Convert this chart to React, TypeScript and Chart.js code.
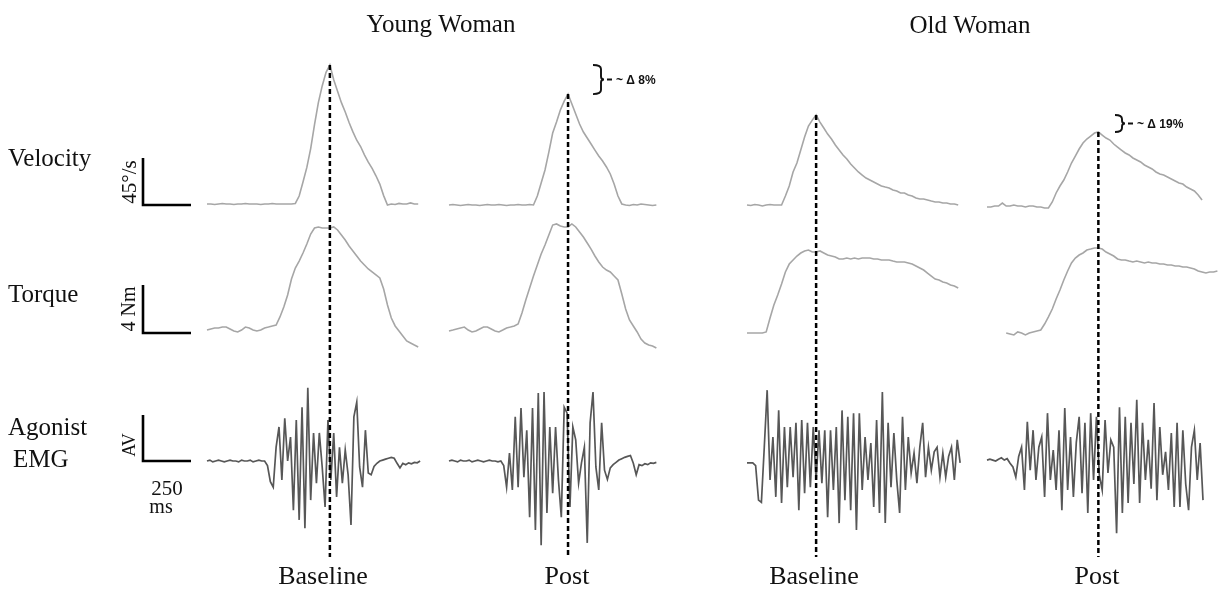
import React, { useEffect, useRef } from 'react';
import { Chart, registerables } from 'chart.js';

Chart.register(...registerables);

// ---------------- DATA ----------------
// sampling steps (ms)
const stepMs = 20; // velocity & torque
const emgStepMs = 15; // EMG

const panelNames = ['Baseline', 'Post', 'Baseline', 'Post'];
const groupTitles = ['Young Woman', 'Old Woman'];
const rowLabels = ['Velocity', 'Torque', 'Agonist', 'EMG'];
const scaleBarLabels = ['45°/s', '4 Nm', 'AV'];
const timeBarLabels = ['250', 'ms'];
const deltaLabels = ['~ Δ 8%', '~ Δ 19%'];

// scale-bar sizes (data units)
const velBar = 45; // °/s
const torqueBar = 4; // Nm
const emgBar = 1; // AV
const timeBar = 250; // ms

// Velocity (°/s)
const ybVel = [1, 1, 0.5, 1, 1.5, 1, 1, 0.5, 1, 1, 1.5, 1, 1, 1, 0.5, 1, 1, 1.5, 1, 1, 1, 1, 1, 1.5,
  8.6, 22, 36, 54, 77, 98, 114, 127, 134, 120, 109, 98, 89, 79, 70, 62, 56, 48, 41, 35, 28, 20, 9, 0,
  1, 0.5, 1.5, 1, 1, 2, 1, 1];
const ypVel = [0, 0.5, 0, -0.5, 0, 0.5, 0, 0, -0.5, 0, 0.5, 0, 0, 0.5, 0, -0.5, 0, 0, 0.5, 0, 0, 0.5, 0,
  8.6, 21, 33.5, 50.7, 68.9, 79.4, 90.9, 99.5, 106.2, 96.7, 87.1, 77.5, 69.9, 64.1, 58.4, 52.6, 46.9, 42.1,
  36.4, 29.7, 20.1, 8.6, 1, 0, -0.5, 0.5, 0, 1, 0.5, 0, -0.5, 0];
const obVel = [0, -0.5, 0.5, 0, -1, 0, 0.5, 0, 0, 0,
  8.6, 18.2, 31.6, 40.2, 52.6, 65.1, 75.6, 81.3, 86.1, 79.4, 73.7, 67.9, 63.2, 57.4, 52.6, 47.9, 44, 39.2,
  35.4, 31.6, 28.7, 25.8, 23.9, 22, 20.1, 18.2, 17.2, 16.3, 14.4, 13.4, 11.5, 11.5, 9.6, 8.6, 6.7, 5.7,
  5.7, 4.8, 3.8, 2.9, 2.9, 1.9, 1.9, 1, 1, 0];
const opVel = [-1.9, -1.9, -1, -1, 1.9, -1, -1, 0, -1, -1, -1.9, -1, -1, -1.9, -1.9, -2.9, -2.9, 2.9, 11.5,
  18.2, 23.9, 31.6, 40.2, 46.9, 53.6, 59.3, 63.2, 66, 68.9, 69.9, 67, 64.1, 62.2, 58.4, 55.5, 52.6, 49.8,
  47.9, 45, 43.1, 41.2, 38.3, 36.4, 34.5, 31.6, 29.7, 28.7, 26.8, 24.9, 23, 21.1, 20.1, 17.2, 15.3, 13.4,
  9.6, 4.8];

// Torque (Nm)
const ybTorque = [0.08, 0.17, 0.25, 0.25, 0.33, 0.33, 0.17, 0, -0.08, 0.08, 0.33, 0.25, 0.08, 0, 0.08, 0.25,
  0.33, 0.42, 0.5, 1.17, 2, 3, 4.33, 5.25, 5.83, 6.5, 7.25, 8.08, 8.58, 8.67, 8.58, 8.58, 8.58, 8.67, 8.42,
  8, 7.58, 7.08, 6.67, 6.25, 5.83, 5.5, 5.17, 4.92, 4.67, 4.42, 3.5, 2.17, 1.08, 0.42, 0, -0.42, -0.83, -1,
  -1.17, -1.33];
const ypTorque = [0, 0.08, 0.17, 0.25, 0.33, 0.08, -0.08, 0, 0.17, 0.33, 0.33, 0.17, 0, -0.08, 0.08, 0.25,
  0.33, 0.42, 0.58, 1.5, 2.58, 3.58, 4.58, 5.5, 6.42, 7.17, 8, 8.83, 8.92, 8.75, 8.67, 8.67, 8.92, 8.67,
  8.25, 7.83, 7.33, 6.83, 6.25, 5.75, 5.33, 5.08, 4.92, 4.58, 4.25, 3.08, 1.83, 0.92, 0.42, -0.08, -0.67,
  -1, -1.17, -1.25, -1.42];
const obTorque = [-0.17, -0.17, -0.17, -0.17, -0.17, -0.08, 1.08, 2.17, 3, 3.92, 4.92, 5.58, 5.92, 6.25,
  6.5, 6.67, 6.75, 6.58, 6.58, 6.67, 6.5, 6.33, 6.25, 6.17, 6, 6, 6.08, 6, 6.08, 6, 6.08, 6.08, 6.08, 6, 6,
  5.92, 5.92, 5.92, 5.83, 5.75, 5.75, 5.75, 5.67, 5.58, 5.42, 5.25, 5.08, 4.83, 4.58, 4.33, 4.25, 4.08, 4,
  3.83, 3.75, 3.58];
const opTorque = [null, null, null, null, null, -0.17, -0.25, -0.33, -0.08, -0.17, -0.33, -0.17, -0.08, 0,
  0.08, 0.58, 1.17, 1.83, 2.67, 3.42, 4.25, 5, 5.67, 6.08, 6.33, 6.5, 6.75, 6.83, 6.92, 6.92, 6.83, 6.58,
  6.42, 6.25, 6, 5.92, 5.92, 5.83, 5.75, 5.83, 5.75, 5.67, 5.75, 5.67, 5.67, 5.58, 5.58, 5.5, 5.5, 5.42,
  5.42, 5.33, 5.33, 5.25, 5.17, 5, 4.92, 4.83, 4.92, 4.92, 5];

// Agonist EMG (AV)
const ybEmg = [0, 0.02, -0.02, 0, 0.02, 0, -0.02, 0, 0.02, 0, 0, -0.02, 0.02, 0, 0, 0.02, -0.02, 0, 0.02, 0, 0,
  -0.1, -0.45, -0.57, 0.3, 0.74, -0.41, 0.93, 0, 0.52, -1.07, 0.89, -1.28, 1.17, -1.46, 1.59, -0.85, 0.61,
  -0.48, 0.61, -0.13, -1, 0.89, -0.41, 0.61, -0.78, 0.3, -0.48, 0.24, -0.3, -1.39, 0.96, 1.28, -0.13,
  -0.57, 0.67, -0.26, -0.3, -0.12, -0.05, 0, 0.02, 0.04, 0.06, 0.08, 0.06, -0.05, -0.15, -0.05, -0.08,
  -0.04, -0.06, -0.03, -0.04, 0];
const ypEmg = [0, 0.02, 0, -0.02, 0.02, 0, 0, 0.02, -0.02, 0, 0.02, 0, -0.02, 0, 0.02, 0, 0, -0.02, 0,
  -0.1, -0.57, 0.17, -0.63, 0.96, -0.57, 1.15, -0.35, 0.67, -1.22, 1.15, -1.5, 1.48, -1.83, 1.5, -1.13,
  0.74, -0.7, 0.74, -0.41, -1.22, 1.17, 1.04, -1, 0.74, 0.46, -0.48, -0.04, 0.3, -1.78, 0.83, 1.5, -0.13,
  -0.63, 0.83, -0.2, -0.4, -0.15, -0.08, -0.03, 0.02, 0.05, 0.08, 0.1, 0.12, -0.05, -0.3, -0.08, -0.1,
  -0.06, -0.08, -0.04, -0.05, -0.03];
const obEmg = [-0.04, -0.04, -0.04, -0.1, -0.85, -0.9, 0.3, 1.54, -0.41, 0.52, -0.78, 1.1, -0.91, 0.74,
  -0.57, 0.74, -0.35, 0.83, -1.07, 0.89, -0.7, 0.83, -0.57, 0.74, -0.41, 0.67, -0.48, 0.67, -1.22, 0.67,
  -0.63, 0.74, -1.35, 1.1, -0.85, 0.96, -1.07, 1.04, -1.5, 1.04, -0.63, 0.52, -0.41, 0.39, -1, 0.89, -1.13,
  1.5, -1.35, 0.83, -0.57, 0.61, -0.41, -1.13, 0.96, -0.63, 0.52, -0.26, 0.17, -0.48, 0.3, 0.83, -0.35,
  0.3, -0.2, 0.2, 0.3, -0.35, 0.17, -0.35, 0.1, 0.3, -0.41, 0.46, -0.04];
const opEmg = [0.02, 0.04, 0.02, 0, 0.04, 0.07, 0.02, 0.05, -0.05, -0.13, -0.35, 0.1, 0.3, -0.63, 0.85,
  -0.2, 0.67, -0.41, 0.3, 0.52, -0.78, 1.04, -0.41, 0.24, -0.63, 0.67, -1.07, 1.15, -0.63, 0.52, -0.78,
  0.4, 0.96, -0.7, 0.83, -1.13, 1.04, -0.41, 0.96, -0.3, -0.63, 0.89, -0.26, 0.46, 0.3, -1.57, 1.17,
  -1.13, 0.96, -0.91, 0.83, -0.5, 1.33, -0.91, 0.83, -0.41, 0.46, -0.6, 1.26, -0.85, 0.74, -0.3, 0.2,
  -0.63, 0.61, -1, 0.83, -1, 0.67, -0.5, -1.07, 0.3, 0.67, -0.41, 0.39, -0.85];

const velSeries = [ybVel, ypVel, obVel, opVel];
const torqueSeries = [ybTorque, ypTorque, obTorque, opTorque];
const emgSeries = [ybEmg, ypEmg, obEmg, opEmg];

// ---------------- LAYOUT ----------------
const W = 1219;
const H = 591;
const pxPerMs = 48 / 250;
const panelStartPx = [207, 449, 747, 987];
const panelLabelX = [323, 567, 814, 1097];
const titleX = [441, 970];
const velZeroPx = 205;
const velPxPerUnit = 47 / 45;
const tqZeroPx = 331;
const tqPxPerUnit = 12;
const emgZeroPx = 461;
const emgPxPerUnit = 46;
const dashBottomPx = 557;

const xRange = (startPx: number) => ({ min: -startPx / pxPerMs, max: (W - startPx) / pxPerMs });
const yRange = (zeroPx: number, ppu: number) => ({ min: -(H - zeroPx) / ppu, max: zeroPx / ppu });

const SERIF = '"Liberation Serif", "Times New Roman", serif';
const SANS = '"Liberation Sans", Arial, sans-serif';

const toPoints = (arr: (number | null)[], step: number) => arr.map((v, i) => ({ x: i * step, y: v }));
const peakIndex = (arr: number[]) => arr.reduce((bi, v, i) => (v > arr[bi] ? i : bi), 0);

const figurePlugin = {
  id: 'figureDecor',
  afterDatasetsDraw(chart: any) {
    const ctx: CanvasRenderingContext2D = chart.ctx;
    const s = chart.scales;
    const xIds = ['xYB', 'xYP', 'xOB', 'xOP'];
    ctx.save();

    // dashed peak-velocity lines
    ctx.strokeStyle = '#000';
    ctx.lineWidth = 2.5;
    ctx.setLineDash([5, 3]);
    velSeries.forEach((vel, p) => {
      const pi = peakIndex(vel as number[]);
      const x = s[xIds[p]].getPixelForValue(pi * stepMs);
      const yTop = s.yVel.getPixelForValue(vel[pi]);
      ctx.beginPath();
      ctx.moveTo(x, yTop);
      ctx.lineTo(x, dashBottomPx);
      ctx.stroke();
    });
    ctx.setLineDash([]);

    // scale bars
    const barX = 143;
    const hLen = Math.abs(s.xYB.getPixelForValue(timeBar) - s.xYB.getPixelForValue(0));
    const bars = [
      { bottom: 205, len: Math.abs(s.yVel.getPixelForValue(velBar) - s.yVel.getPixelForValue(0)) },
      { bottom: 333, len: Math.abs(s.yTq.getPixelForValue(torqueBar) - s.yTq.getPixelForValue(0)) },
      { bottom: 461, len: Math.abs(s.yEmg.getPixelForValue(emgBar) - s.yEmg.getPixelForValue(0)) },
    ];
    ctx.lineWidth = 2.6;
    ctx.lineCap = 'butt';
    bars.forEach((b) => {
      ctx.beginPath();
      ctx.moveTo(barX, b.bottom - b.len);
      ctx.lineTo(barX, b.bottom);
      ctx.lineTo(barX + hLen, b.bottom);
      ctx.stroke();
    });

    // rotated scale-bar labels
    ctx.fillStyle = '#111';
    const rot = [
      { t: scaleBarLabels[0], y: 182, size: 21 },
      { t: scaleBarLabels[1], y: 309, size: 20 },
      { t: scaleBarLabels[2], y: 445, size: 18 },
    ];
    rot.forEach((r) => {
      ctx.save();
      ctx.translate(130, r.y);
      ctx.rotate(-Math.PI / 2);
      ctx.font = `${r.size}px ${SERIF}`;
      ctx.textAlign = 'center';
      ctx.textBaseline = 'middle';
      ctx.fillText(r.t, 0, 0);
      ctx.restore();
    });
    ctx.textAlign = 'center';
    ctx.textBaseline = 'alphabetic';
    ctx.font = `21px ${SERIF}`;
    ctx.fillText(timeBarLabels[0], 167, 495);
    ctx.font = `20px ${SERIF}`;
    ctx.fillText(timeBarLabels[1], 161, 513);

    // titles
    ctx.font = `25px ${SERIF}`;
    ctx.textAlign = 'center';
    ctx.fillText(groupTitles[0], titleX[0], 32);
    ctx.fillText(groupTitles[1], titleX[1], 33);

    // row labels
    ctx.textAlign = 'left';
    ctx.fillText(rowLabels[0], 8, 166);
    ctx.fillText(rowLabels[1], 8, 302);
    ctx.fillText(rowLabels[2], 8, 435);
    ctx.fillText(rowLabels[3], 13, 467);

    // panel labels
    ctx.font = `26px ${SERIF}`;
    ctx.textAlign = 'center';
    panelNames.forEach((n, i) => ctx.fillText(n, panelLabelX[i], 584));

    // braces with delta text
    const braces = [
      { pre: 0, post: 1, x0: 593, xv: 601, text: deltaLabels[0] },
      { pre: 2, post: 3, x0: 1115, xv: 1122, text: deltaLabels[1] },
    ];
    ctx.lineWidth = 1.9;
    ctx.strokeStyle = '#111';
    braces.forEach((b) => {
      const top = s.yVel.getPixelForValue(Math.max(...(velSeries[b.pre] as number[])));
      const bot = s.yVel.getPixelForValue(Math.max(...(velSeries[b.post] as number[])));
      const mid = (top + bot) / 2;
      ctx.beginPath();
      ctx.moveTo(b.x0, top);
      ctx.quadraticCurveTo(b.xv, top, b.xv, top + 4);
      ctx.lineTo(b.xv, mid - 3);
      ctx.quadraticCurveTo(b.xv, mid, b.xv + 3, mid);
      ctx.quadraticCurveTo(b.xv, mid, b.xv, mid + 3);
      ctx.lineTo(b.xv, bot - 4);
      ctx.quadraticCurveTo(b.xv, bot, b.x0, bot);
      ctx.moveTo(b.xv + 6, mid);
      ctx.lineTo(b.xv + 11, mid);
      ctx.stroke();
      ctx.font = `bold 12px ${SANS}`;
      ctx.textAlign = 'left';
      ctx.textBaseline = 'middle';
      ctx.fillText(b.text, b.xv + 15, mid + 1);
    });

    ctx.restore();
  },
};

export default function App() {
  const ref = useRef<HTMLCanvasElement | null>(null);

  useEffect(() => {
    if (!ref.current) return;
    const xIds = ['xYB', 'xYP', 'xOB', 'xOP'];
    const datasets: any[] = [];
    const traceGray = '#a6a6a6';
    for (let p = 0; p < 4; p++) {
      datasets.push({
        data: toPoints(velSeries[p], stepMs), xAxisID: xIds[p], yAxisID: 'yVel',
        borderColor: traceGray, borderWidth: 1.6, pointRadius: 0, tension: 0, spanGaps: false,
      });
      datasets.push({
        data: toPoints(torqueSeries[p], stepMs), xAxisID: xIds[p], yAxisID: 'yTq',
        borderColor: traceGray, borderWidth: 1.6, pointRadius: 0, tension: 0, spanGaps: false,
      });
      datasets.push({
        data: toPoints(emgSeries[p], emgStepMs), xAxisID: xIds[p], yAxisID: 'yEmg',
        borderColor: '#575757', borderWidth: 1.7, pointRadius: 0, tension: 0, spanGaps: false,
      });
    }
    const scales: any = {};
    xIds.forEach((id, p) => {
      scales[id] = { type: 'linear', axis: 'x', display: false, bounds: 'data', ...xRange(panelStartPx[p]) };
    });
    scales.yVel = { type: 'linear', axis: 'y', display: false, bounds: 'data', ...yRange(velZeroPx, velPxPerUnit) };
    scales.yTq = { type: 'linear', axis: 'y', display: false, bounds: 'data', ...yRange(tqZeroPx, tqPxPerUnit) };
    scales.yEmg = { type: 'linear', axis: 'y', display: false, bounds: 'data', ...yRange(emgZeroPx, emgPxPerUnit) };

    const chart = new Chart(ref.current, {
      type: 'line',
      data: { datasets },
      options: {
        responsive: false,
        animation: false,
        events: [],
        layout: { padding: 0 },
        plugins: { legend: { display: false }, tooltip: { enabled: false }, title: { display: false } },
        scales,
      },
      plugins: [figurePlugin],
    } as any);
    return () => chart.destroy();
  }, []);

  return (
    <div style={{ position: 'fixed', left: 0, top: 0, width: W, height: H, background: '#fff' }}>
      <canvas ref={ref} width={W} height={H} style={{ display: 'block', width: W, height: H }} />
    </div>
  );
}
